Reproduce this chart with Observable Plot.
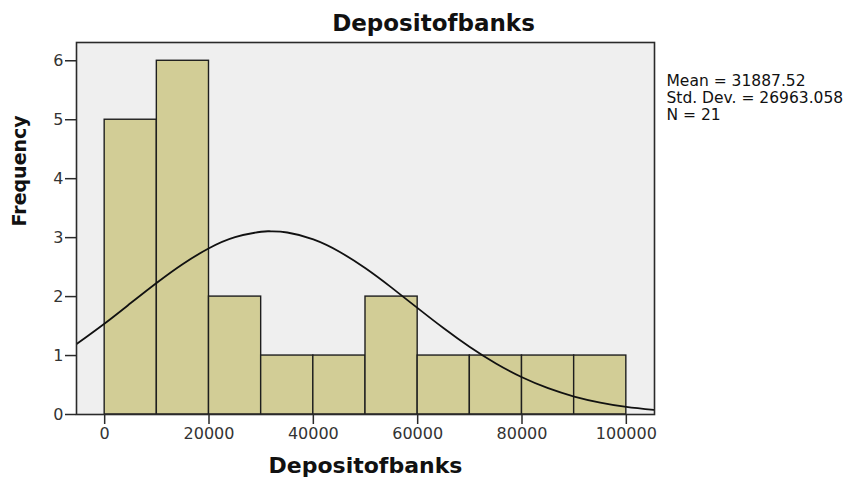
<!DOCTYPE html>
<html>
<head>
<meta charset="utf-8">
<script src="https://cdn.jsdelivr.net/npm/d3@7"></script>
<script src="https://cdn.jsdelivr.net/npm/@observablehq/plot@0.6"></script>
<style>
  html, body { margin: 0; padding: 0; background: #fff; }
  #chart svg { display: block; }
</style>
</head>
<body>
<div id="chart"></div>
<script>
// ---- data ----
const title = "Depositofbanks";
const xLabel = "Depositofbanks";
const yLabel = "Frequency";
const binStart = [0, 10000, 20000, 30000, 40000, 50000, 60000, 70000, 80000, 90000];
const binEnd   = [10000, 20000, 30000, 40000, 50000, 60000, 70000, 80000, 90000, 100000];
const frequency = [5, 6, 2, 1, 1, 2, 1, 1, 1, 1];
// fitted normal curve
const curveX = [-5400, 0, 5000, 10000, 15000, 20000, 25000, 30000, 31887, 35000, 40000, 45000, 50000, 55000, 60000, 65000, 70000, 75000, 80000, 85000, 90000, 95000, 100000, 105400];
const curveY = [1.194, 1.544, 1.890, 2.235, 2.554, 2.819, 3.007, 3.100, 3.107, 3.087, 2.970, 2.761, 2.480, 2.152, 1.804, 1.462, 1.144, 0.865, 0.632, 0.446, 0.305, 0.202, 0.128, 0.076];
const xTicks = [0, 20000, 40000, 60000, 80000, 100000];
const yTicks = [0, 1, 2, 3, 4, 5, 6];
const statsLines = ["Mean = 31887.52", "Std. Dev. = 26963.058", "N = 21"];

// ---- build tables ----
const bins = binStart.map((s, i) => ({x1: s, x2: binEnd[i], y: frequency[i]}));
const curve = curveX.map((x, i) => ({x, y: curveY[i]}));

const chart = Plot.plot({
  width: 856,
  height: 482,
  marginLeft: 76,
  marginRight: 202,
  marginTop: 42,
  marginBottom: 68,
  style: {fontFamily: "DejaVu Sans", fontSize: "16px", color: "#222", background: "#fff"},
  x: {domain: [-5400, 105400]},
  y: {domain: [0, 6.31]},
  marks: [
    Plot.frame({fill: "#efefef", stroke: null}),
    Plot.rectY(bins, {x1: "x1", x2: "x2", y: "y", fill: "#d2cd96", stroke: "#1e1e1e", strokeWidth: 1.4}),
    Plot.line(curve, {x: "x", y: "y", curve: "natural", stroke: "#111", strokeWidth: 1.8, clip: true}),
    Plot.frame({stroke: "#2a2a2a", strokeWidth: 1.6}),
    Plot.axisX({ticks: xTicks, tickFormat: d => String(d), tickSize: 10, tickPadding: 3, label: null, fontSize: 16, fill: "#333", stroke: "#2a2a2a", strokeWidth: 1.5}),
    Plot.axisY({ticks: yTicks, tickFormat: d => String(d), tickSize: 11, tickPadding: 2, label: null, fontSize: 16, fill: "#333", stroke: "#2a2a2a", strokeWidth: 1.5}),
    Plot.text([title], {frameAnchor: "top", dx: 68, dy: -28, fontSize: 23, fontWeight: "bold", fill: "#111"}),
    Plot.text([xLabel], {frameAnchor: "bottom", dy: 58, fontSize: 22, fontWeight: "bold", fill: "#111"}),
    Plot.text([yLabel], {frameAnchor: "left", dx: -57, dy: -2, rotate: -90, fontSize: 19, fontWeight: "bold", fill: "#111"}),
    Plot.text([statsLines.join("\n")], {frameAnchor: "top-right", textAnchor: "start", lineAnchor: "top", dx: 12, dy: 32, fontSize: 15.5, lineHeight: 1.08, fill: "#111"})
  ]
});
document.getElementById("chart").appendChild(chart);
</script>
</body>
</html>
